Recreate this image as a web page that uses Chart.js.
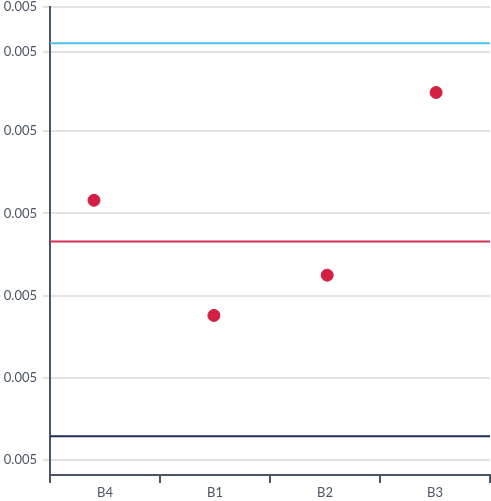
<!DOCTYPE html>
<html>
<head>
<meta charset="utf-8">
<script src="https://cdn.jsdelivr.net/npm/chart.js@4/dist/chart.umd.min.js"></script>
<style>
  html, body { margin: 0; padding: 0; background: #fff; }
  #wrap { width: 491px; height: 501px; }
</style>
</head>
<body>
<div id="wrap"><canvas id="chart"></canvas></div>
<script>
// categories, in plotted order
const categories = ['B4', 'B1', 'B2', 'B3']
// point x positions (category index plus a small jitter) and values
const pointX = [-0.1, 0.99, 2.02, 3.01]
const pointY = [0.0050316, 0.0050176, 0.0050225, 0.0050447]
// horizontal reference lines
const refLines = [0.0050507, 0.0050266, 0.0050029]
const refColors = ['#4cc3ec', '#d42f55', '#1f2a5c']
// y axis range and tick values
const yMin = 0.0049982
const yMax = 0.0050551
const yTicks = [0.0050, 0.00501, 0.00502, 0.00503, 0.00504, 0.0050496, 0.0050551]

const axisColor = '#4b5563'
const gridColor = '#e2e2e2'
const font = { family: 'Lato', size: 13 }

const datasets = [{
    data: pointX.map((x, i) => ({ x, y: pointY[i] })),
    backgroundColor: '#d41f43',
    borderColor: '#d41f43',
    pointRadius: 6,
    pointHoverRadius: 6,
    showLine: false,
    order: 0
}]

refLines.forEach((v, i) => {
    datasets.push({
        data: [{ x: -0.5, y: v }, { x: 3.5, y: v }],
        borderColor: refColors[i],
        borderWidth: 2,
        pointRadius: 0,
        showLine: true,
        order: 1
    })
})

new Chart(document.getElementById('chart'), {
    type: 'scatter',
    data: { datasets },
    options: {
        responsive: true,
        maintainAspectRatio: false,
        animation: false,
        layout: { autoPadding: false, padding: { top: 7, right: 1, bottom: 0, left: 0 } },
        plugins: { legend: { display: false }, tooltip: { enabled: false } },
        scales: {
            x: {
                type: 'linear',
                min: -0.5,
                max: 3.5,
                afterBuildTicks: scale => {
                    scale.ticks = [-0.5, 0, 0.5, 1, 1.5, 2, 2.5, 3, 3.5].map(value => ({ value }))
                },
                afterFit: scale => {
                    scale.height = 26
                    scale.paddingLeft = 0
                    scale.paddingRight = 0
                },
                ticks: {
                    autoSkip: false,
                    maxRotation: 0,
                    color: axisColor,
                    font,
                    padding: 2,
                    callback: v => Number.isInteger(v) ? categories[v] : ''
                },
                grid: {
                    drawOnChartArea: false,
                    tickLength: 8,
                    tickColor: ctx => Number.isInteger(ctx.tick.value) ? 'rgba(0,0,0,0)' : axisColor,
                    lineWidth: 2
                },
                border: { color: axisColor, width: 2 }
            },
            y: {
                min: yMin,
                max: yMax,
                afterBuildTicks: scale => {
                    scale.ticks = yTicks.map(value => ({ value }))
                },
                afterFit: scale => {
                    scale.width = 50
                    scale.paddingTop = 0
                    scale.paddingBottom = 0
                },
                ticks: {
                    color: axisColor,
                    font,
                    padding: 6,
                    callback: v => Number(v).toFixed(3)
                },
                grid: {
                    color: gridColor,
                    lineWidth: 2,
                    tickLength: 7
                },
                border: { color: axisColor, width: 2 }
            }
        }
    }
})
</script>
</body>
</html>
